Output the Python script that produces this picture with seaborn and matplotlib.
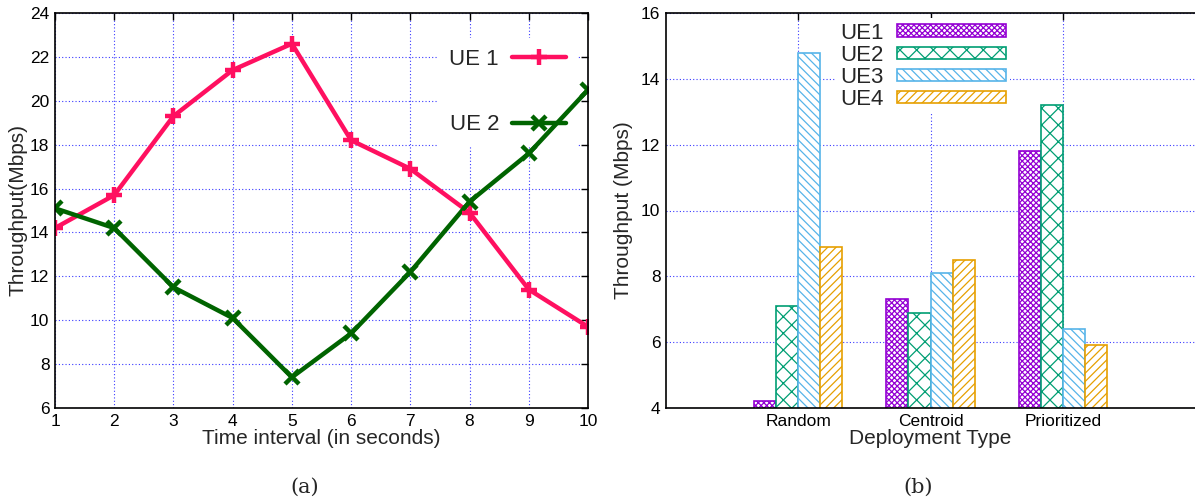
import numpy as np
import pandas as pd
import matplotlib
matplotlib.use("Agg")
import matplotlib.pyplot as plt
from matplotlib.patches import Patch
from matplotlib.lines import Line2D
import seaborn as sns

# left panel: throughput over time
seconds = [1, 2, 3, 4, 5, 6, 7, 8, 9, 10]
ue1_tp = [14.2, 15.7, 19.3, 21.4, 22.6, 18.2, 16.9, 14.9, 11.4, 9.7]
ue2_tp = [15.1, 14.2, 11.5, 10.1, 7.4, 9.4, 12.2, 15.4, 17.6, 20.5]

# right panel: throughput per deployment type
deploy_types = ["Random", "Centroid", "Prioritized"]
ue_names = ["UE1", "UE2", "UE3", "UE4"]
bar_ue1 = [4.2, 7.3, 11.8]
bar_ue2 = [7.1, 6.9, 13.2]
bar_ue3 = [14.8, 8.1, 6.4]
bar_ue4 = [8.9, 8.5, 5.9]

sns.set_theme(style="white")
plt.rcParams["font.family"] = ["Liberation Sans", "DejaVu Sans"]
plt.rcParams["hatch.linewidth"] = 0.9

grid_kw = dict(color="#3a3aff", linestyle=(0, (1, 2)), linewidth=0.8)

fig = plt.figure(figsize=(11.95, 5.04), dpi=100)
ax1 = fig.add_axes([55 / 1195, 1 - 408 / 504, 533 / 1195, 395 / 504])
ax2 = fig.add_axes([666 / 1195, 1 - 408 / 504, 529 / 1195, 395 / 504])

# ---- (a) line chart
df_line = pd.DataFrame({
    "t": seconds * 2,
    "tp": ue1_tp + ue2_tp,
    "ue": ["UE 1"] * len(seconds) + ["UE 2"] * len(seconds),
})
line_colors = {"UE 1": "#ff1060", "UE 2": "#006400"}
sns.lineplot(data=df_line, x="t", y="tp", hue="ue", palette=line_colors,
             linewidth=3.2, ax=ax1, legend=False)
# thick marker glyphs like gnuplot's
ax1.plot(seconds, ue1_tp, "+", color=line_colors["UE 1"], ms=11, mew=3.2)
ax1.plot(seconds, ue2_tp, "x", color=line_colors["UE 2"], ms=10, mew=3.2)

ax1.set_xlim(1, 10)
ax1.set_ylim(6, 24)
ax1.set_xticks(seconds)
ax1.set_yticks(np.arange(6, 25, 2))
ax1.set_axisbelow(True)
ax1.grid(True, **grid_kw)
ax1.set_xlabel("Time interval (in seconds)", fontsize=15, labelpad=0)
ax1.set_ylabel("Throughput(Mbps)", fontsize=15, labelpad=2)

h1 = [Line2D([], [], color=line_colors["UE 1"], lw=3.2, marker="+", ms=11, mew=3.2),
      Line2D([], [], color=line_colors["UE 2"], lw=3.2, marker="x", ms=10, mew=3.2)]
leg1 = ax1.legend(h1, ["UE 1", "UE 2"], loc="upper right", bbox_to_anchor=(1.0, 0.965),
                  markerfirst=False, fontsize=16, handlelength=2.4, labelspacing=2.0,
                  frameon=True, framealpha=1, facecolor="white", edgecolor="none",
                  fancybox=False, borderpad=0.5, handletextpad=0.6)
leg1.set_zorder(1.5)  # data lines pass over the key, as in gnuplot

# ---- (b) bar chart
df_bar = pd.DataFrame({
    "deploy": deploy_types * 4,
    "tp": bar_ue1 + bar_ue2 + bar_ue3 + bar_ue4,
    "ue": [u for u in ue_names for _ in deploy_types],
})
bar_colors = ["#9400d3", "#009e73", "#56b4e9", "#e69f00"]
hatches = ["xxxxxx", "xx", "\\\\\\\\", "////"]
sns.barplot(data=df_bar, x="deploy", y="tp", hue="ue", palette=bar_colors,
            width=0.667, gap=0, ax=ax2, legend=False)

for cont, col, hat in zip(ax2.containers, bar_colors, hatches):
    for p in cont:
        p.set_facecolor("white")
        p.set_edgecolor(col)
        p.set_hatch(hat)
        p.set_linewidth(1.2)

ax2.set_xlim(-1, 3)
ax2.set_ylim(4, 16)
ax2.set_yticks(np.arange(4, 17, 2))
ax2.set_axisbelow(True)
ax2.grid(True, **grid_kw)
ax2.set_xlabel("Deployment Type", fontsize=15, labelpad=0)
ax2.set_ylabel("Throughput (Mbps)", fontsize=15, labelpad=6)
ax2.spines["right"].set_visible(False)

h2 = [Patch(facecolor="white", edgecolor=c, hatch=h, lw=1.2) for c, h in zip(bar_colors, hatches)]
leg2 = ax2.legend(h2, ue_names, loc="upper left", bbox_to_anchor=(0.3, 1.015),
                  markerfirst=False, fontsize=16, handlelength=4.9, handleheight=0.5,
                  labelspacing=0.05, frameon=True, framealpha=1, facecolor="white",
                  edgecolor="none", fancybox=False, borderpad=0.2, handletextpad=0.6)

for ax in (ax1, ax2):
    ax.tick_params(axis="both", direction="in", length=5, width=1, labelsize=12.5,
                   top=True, right=(ax is ax1), pad=4, colors="black")
    for s in ax.spines.values():
        s.set_color("black")
        s.set_linewidth(1.2)

fig.text(305 / 1195, 1 - 487 / 504, "(a)", ha="center", va="center",
         fontsize=15, family="DejaVu Serif")
fig.text(918 / 1195, 1 - 487 / 504, "(b)", ha="center", va="center",
         fontsize=15, family="DejaVu Serif")

fig.savefig("out.png", dpi=100)
